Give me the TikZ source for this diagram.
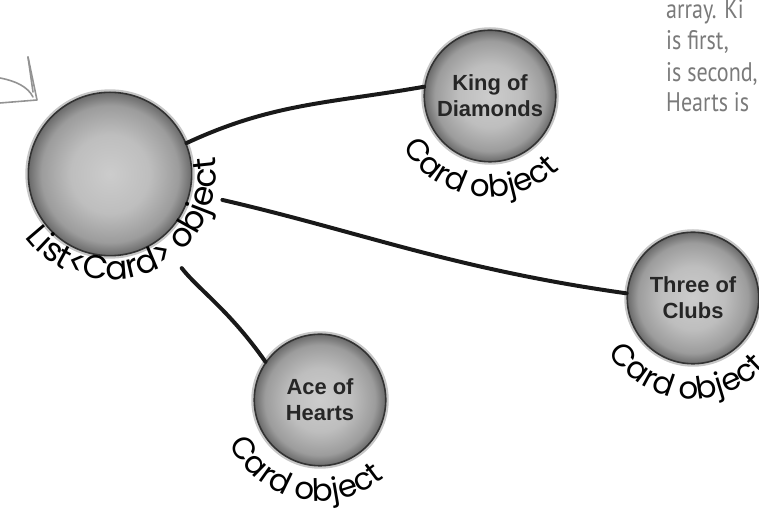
\documentclass[tikz,border=0pt]{standalone}
\usepackage{fontspec}
\setmainfont{Liberation Sans}
\newfontfamily\lblfont{Poppins}
\newfontfamily\notefont{PT Sans}[FakeStretch=0.82]
\usetikzlibrary{decorations.text,calc}
\definecolor{ballA}{HTML}{CCCCCC}
\definecolor{ballB}{HTML}{BEBEBE}
\definecolor{ballC}{HTML}{9C9C9C}
\definecolor{ballD}{HTML}{6A6A6A}
\definecolor{notegray}{HTML}{7A7A7A}
\pgfdeclareradialshading{ball}{\pgfpoint{0bp}{0bp}}{color(0bp)=(ballA); color(12bp)=(ballB); color(21bp)=(ballC); color(25bp)=(ballD); color(50bp)=(ballD)}
\tikzset{
  cardball/.style={circle, minimum size=132, inner sep=0, shading=ball,
    draw=black!80, line width=1.6,
    preaction={draw=gray!45, line width=6},
    font=\bfseries\fontsize{22}{26}\selectfont, text=black!85, align=center},
  bigball/.style={cardball, minimum size=164},
  conn/.style={draw=black!90, line width=4, line cap=round},
  arrowc/.style={draw=gray!85, line width=1.6, line cap=round, line join=round},
  note/.style={anchor=base west, inner sep=0, text=notegray,
    font=\notefont\fontsize{27}{27}\selectfont},
}
\newcommand\arclabel[5]{%
  \path[decorate, decoration={text along path, text align=center,
      text={|\lblfont\fontsize{#5}{#5}\selectfont|#4}}]
    ($(#1)+({#2-88}:#3)$) arc[start angle={#2-88}, end angle={#2+88}, radius=#3];}
\begin{document}
\begin{tikzpicture}[x=1bp,y=1bp]
\useasboundingbox (0,0) rectangle (759,508);
\clip (0,0) rectangle (759,508);
% nodes
\node[bigball] (big) at (110,334) {};
\node[cardball] (king) at (490,412) {King of\\Diamonds};
\node[cardball] (three) at (693,210) {Three of\\Clubs};
\node[cardball] (ace) at (320,108) {Ace of\\Hearts};
% connectors
\draw[conn] (big.22) to[out=25, in=190] (king.172);
\draw[conn, shorten <=33] (big.-13) to[out=-13, in=172] (three.176);
\draw[conn, shorten <=36] (big.-53) to[out=-52, in=125] (ace.145);
% labels
\arclabel{big.center}{293}{106}{List<Card> object}{33}
\arclabel{king.center}{262}{101}{Card object}{31}
\arclabel{three.center}{265}{101}{Card object}{31}
\arclabel{ace.center}{258}{101}{Card object}{31}
% arrow (top left)
\coordinate (ar1) at (0,430);
\coordinate (ar2) at (33,411);
\coordinate (ah1) at (28,451);
\coordinate (ah2) at (37,408);
\coordinate (ah3) at (0,405);
\draw[arrowc] (ar1) .. controls (16,427) and (28,421) .. (ar2);
\draw[arrowc] (ah1) -- (ah2) -- (ah3);
\draw[arrowc] (ah1) -- (33,416);
% note text (top right)
\node[note] (n1) at (666,489) {array. Ki};
\node[note] (n2) at (666,458) {is first,};
\node[note] (n3) at (666,426) {is second,};
\node[note] (n4) at (666,396) {Hearts is};
\end{tikzpicture}
\end{document}
